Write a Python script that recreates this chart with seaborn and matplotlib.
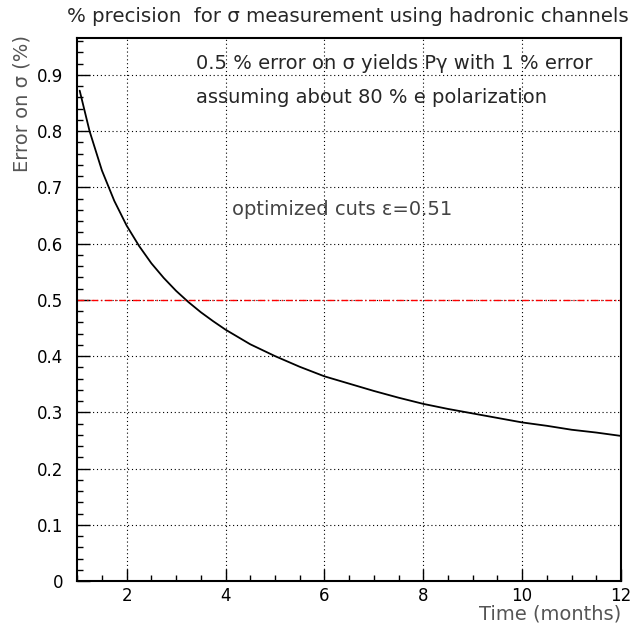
import matplotlib
matplotlib.use("Agg")
import matplotlib.pyplot as plt
import seaborn as sns
import pandas as pd
from matplotlib.ticker import MultipleLocator

# Data
months = [1.05, 1.25, 1.5, 1.75, 2.0, 2.25, 2.5, 2.75, 3.0, 3.25, 3.5, 3.75,
          4.0, 4.5, 5.0, 5.5, 6.0, 6.5, 7.0, 7.5, 8.0, 8.5, 9.0, 9.5, 10.0,
          10.5, 11.0, 11.5, 12.0]
error = [0.872, 0.800, 0.730, 0.676, 0.632, 0.596, 0.565, 0.539, 0.516, 0.496,
         0.478, 0.462, 0.447, 0.421, 0.400, 0.381, 0.364, 0.351, 0.338, 0.326,
         0.315, 0.306, 0.298, 0.290, 0.282, 0.276, 0.269, 0.264, 0.258]
ref_level = 0.5

title = "% precision  for σ measurement using hadronic channels"
note1 = "0.5 % error on σ yields Pγ with 1 % error"
note2 = "assuming about 80 % e polarization"
note3 = "optimized cuts ε=0.51"
xlabel = "Time (months)"
ylabel = "Error on σ (%)"

sns.set_style("ticks")
plt.rcParams['font.family'] = ['DejaVu Sans']

df = pd.DataFrame({"months": months, "error": error})

fig = plt.figure(figsize=(6.35, 6.29), dpi=100)
ax = fig.add_axes([0.1216, 0.0763, 0.8564, 0.8627])

sns.lineplot(data=df, x="months", y="error", ax=ax, color="black", linewidth=1.3)
ax.axhline(ref_level, color="red", linestyle=(0, (5, 2, 1, 2)), linewidth=1.0)

ax.set_xlim(1, 12)
ax.set_ylim(0, 0.965)
ax.xaxis.set_minor_locator(MultipleLocator(0.5))
ax.yaxis.set_minor_locator(MultipleLocator(0.02))
ax.set_xticks([2, 4, 6, 8, 10, 12])
ax.set_xticklabels(["2", "4", "6", "8", "10", "12"])
ax.set_yticks([0, 0.1, 0.2, 0.3, 0.4, 0.5, 0.6, 0.7, 0.8, 0.9])
ax.set_yticklabels(["0", "0.1", "0.2", "0.3", "0.4", "0.5", "0.6", "0.7", "0.8", "0.9"])

ax.grid(True, which="major", color="black", linestyle=(0, (1, 2.5)), linewidth=0.8)
ax.tick_params(which="both", direction="in", top=False, right=False, colors="black")
ax.tick_params(which="major", length=9, width=1.0, labelsize=12)
ax.tick_params(axis="y", which="major", pad=10)
ax.tick_params(axis="x", which="major", pad=4)
ax.tick_params(which="minor", length=4.5, width=1.0)
for s in ax.spines.values():
    s.set_color("black")
    s.set_linewidth(1.5)

ax.set_xlabel(xlabel, fontsize=14, color="#555555", ha="right", va="top")
ax.xaxis.set_label_coords(1.0, -0.043)
ax.set_ylabel(ylabel, fontsize=14, color="#555555", ha="right", va="center")
ax.yaxis.set_label_coords(-0.1015, 1.006)

fig.text(0.548, 0.973, title, ha="center", va="center", fontsize=14.2)
ax.text(3.4, 0.921, note1, ha="left", va="center", fontsize=14)
ax.text(3.4, 0.859, note2, ha="left", va="center", fontsize=14)
ax.text(4.13, 0.66, note3, ha="left", va="center", fontsize=14, color="#444444")

fig.savefig("out.png", dpi=100)
